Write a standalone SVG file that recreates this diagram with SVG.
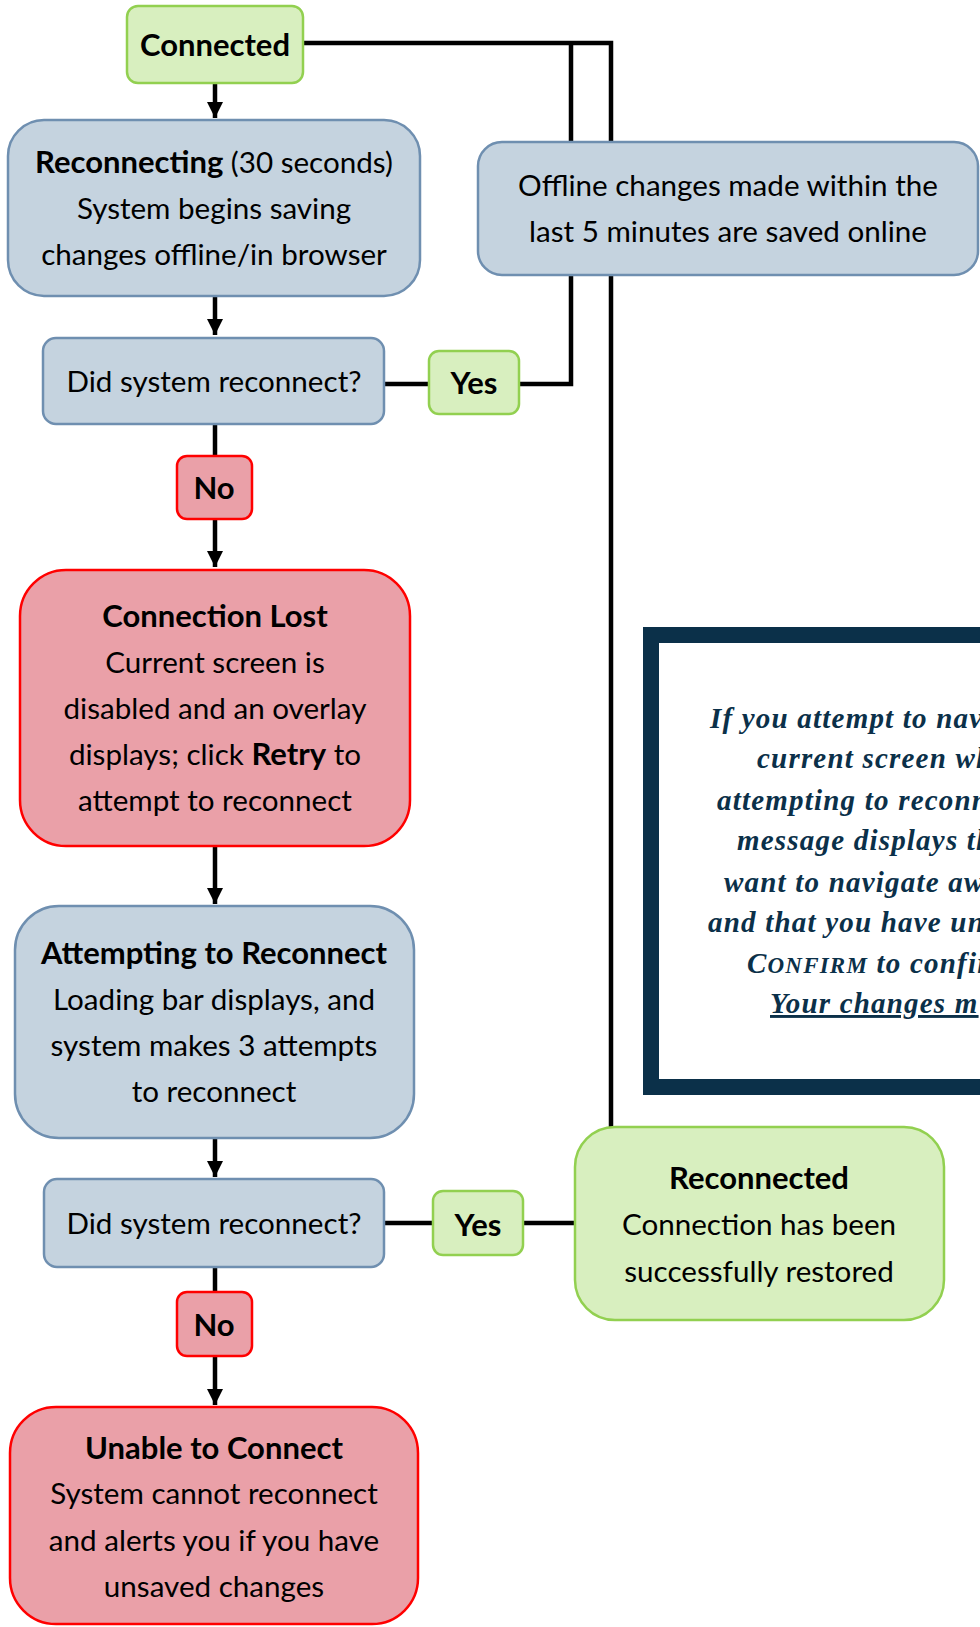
<svg xmlns="http://www.w3.org/2000/svg" width="980" height="1627" viewBox="0 0 980 1627">
<style>
.t{font-family:Lato,"Open Sans",sans-serif;font-size:29.6px;fill:#000;text-anchor:middle}
.b{font-weight:bold;font-size:31px}
.g{fill:#d8efbf;stroke:#92d050;stroke-width:2.5}
.bl{fill:#c5d3df;stroke:#6f8fb0;stroke-width:2.5}
.r{fill:#eaa0a8;stroke:#ff0000;stroke-width:2.5}
.c{fill:none;stroke:#000;stroke-width:4.5}
.n{font-family:"Liberation Serif",serif;font-weight:bold;font-style:italic;font-size:29px;fill:#0b3049;letter-spacing:1.2px}
</style>
<defs>
<marker id="ah" viewBox="0 0 16 16" refX="16" refY="8" markerWidth="16" markerHeight="16" markerUnits="userSpaceOnUse" orient="auto">
<path d="M0,0 L16,8 L0,16 z" fill="#000"/>
</marker>
</defs>
<rect width="980" height="1627" fill="#fff"/>
<g id="connectors">
<path class="c" d="M303,43 H611 V1127"/>
<path class="c" d="M519,384 H571 V43"/>
<path class="c" d="M384,384 H429" stroke-width="5.5"/>
<path class="c" d="M384,1223 H433" stroke-width="5.5"/>
<path class="c" d="M523,1223 H575" stroke-width="5.5"/>
<path class="c" d="M215,424 V455"/>
<path class="c" d="M215,1267 V1292"/>
<path class="c" d="M215,83 V118" marker-end="url(#ah)"/>
<path class="c" d="M215,296 V335" marker-end="url(#ah)"/>
<path class="c" d="M215,519 V567" marker-end="url(#ah)"/>
<path class="c" d="M215,846 V904" marker-end="url(#ah)"/>
<path class="c" d="M215,1138 V1177" marker-end="url(#ah)"/>
<path class="c" d="M215,1356 V1405" marker-end="url(#ah)"/>
</g>
<g id="connected">
<rect class="g" x="127" y="6" width="176" height="77" rx="11"/>
<text class="t b" x="215" y="56">Connected</text>
</g>
<g id="reconnecting">
<rect class="bl" x="8" y="120" width="412" height="176" rx="36"/>
<text class="t" x="214" y="173"><tspan class="b">Reconnecting</tspan> (30 seconds)</text>
<text class="t" x="214" y="219">System begins saving</text>
<text class="t" x="214" y="265">changes offline/in browser</text>
</g>
<g id="offline">
<rect class="bl" x="478" y="142" width="500" height="133" rx="24"/>
<text class="t" x="728" y="196">Offline changes made within the</text>
<text class="t" x="728" y="242">last 5 minutes are saved online</text>
</g>
<g id="did1">
<rect class="bl" x="43" y="338" width="341" height="86" rx="13"/>
<text class="t" x="214" y="392">Did system reconnect?</text>
</g>
<g id="yes1">
<rect class="g" x="429" y="351" width="90" height="63" rx="10"/>
<text class="t b" x="474" y="394">Yes</text>
</g>
<g id="no1">
<rect class="r" x="177" y="456" width="75" height="63" rx="10"/>
<text class="t b" x="214" y="499">No</text>
</g>
<g id="lost">
<rect class="r" x="20" y="570" width="390" height="276" rx="46"/>
<text class="t b" x="215" y="627">Connection Lost</text>
<text class="t" x="215" y="673">Current screen is</text>
<text class="t" x="215" y="719">disabled and an overlay</text>
<text class="t" x="215" y="765">displays; click <tspan class="b">Retry</tspan> to</text>
<text class="t" x="215" y="811">attempt to reconnect</text>
</g>
<g id="note">
<rect x="651" y="635" width="500" height="452" fill="#fff" stroke="#0b3049" stroke-width="16"/>
<text class="n" x="710" y="728">If you attempt to nav</text>
<text class="n" x="757" y="768">current screen wh</text>
<text class="n" x="717" y="810">attempting to reconne</text>
<text class="n" x="737" y="850">message displays th</text>
<text class="n" x="724" y="892">want to navigate aw</text>
<text class="n" x="708" y="932">and that you have un</text>
<text class="n" x="747" y="973">C<tspan font-size="23">ONFIRM</tspan> to confirm</text>
<text class="n" x="770" y="1013" text-decoration="underline">Your changes m</text>
</g>
<g id="attempting">
<rect class="bl" x="15" y="906" width="399" height="232" rx="44"/>
<text class="t b" x="214" y="964">Attempting to Reconnect</text>
<text class="t" x="214" y="1010">Loading bar displays, and</text>
<text class="t" x="214" y="1056">system makes 3 attempts</text>
<text class="t" x="214" y="1102">to reconnect</text>
</g>
<g id="did2">
<rect class="bl" x="44" y="1179" width="340" height="88" rx="13"/>
<text class="t" x="214" y="1234">Did system reconnect?</text>
</g>
<g id="yes2">
<rect class="g" x="433" y="1191" width="90" height="64" rx="10"/>
<text class="t b" x="478" y="1236">Yes</text>
</g>
<g id="reconnected">
<rect class="g" x="575" y="1127" width="369" height="193" rx="40"/>
<text class="t b" x="759" y="1189">Reconnected</text>
<text class="t" x="759" y="1235">Connection has been</text>
<text class="t" x="759" y="1282">successfully restored</text>
</g>
<g id="no2">
<rect class="r" x="177" y="1292" width="75" height="64" rx="10"/>
<text class="t b" x="214" y="1336">No</text>
</g>
<g id="unable">
<rect class="r" x="10" y="1407" width="408" height="217" rx="46"/>
<text class="t b" x="214" y="1459">Unable to Connect</text>
<text class="t" x="214" y="1504">System cannot reconnect</text>
<text class="t" x="214" y="1551">and alerts you if you have</text>
<text class="t" x="214" y="1597">unsaved changes</text>
</g>
</svg>
